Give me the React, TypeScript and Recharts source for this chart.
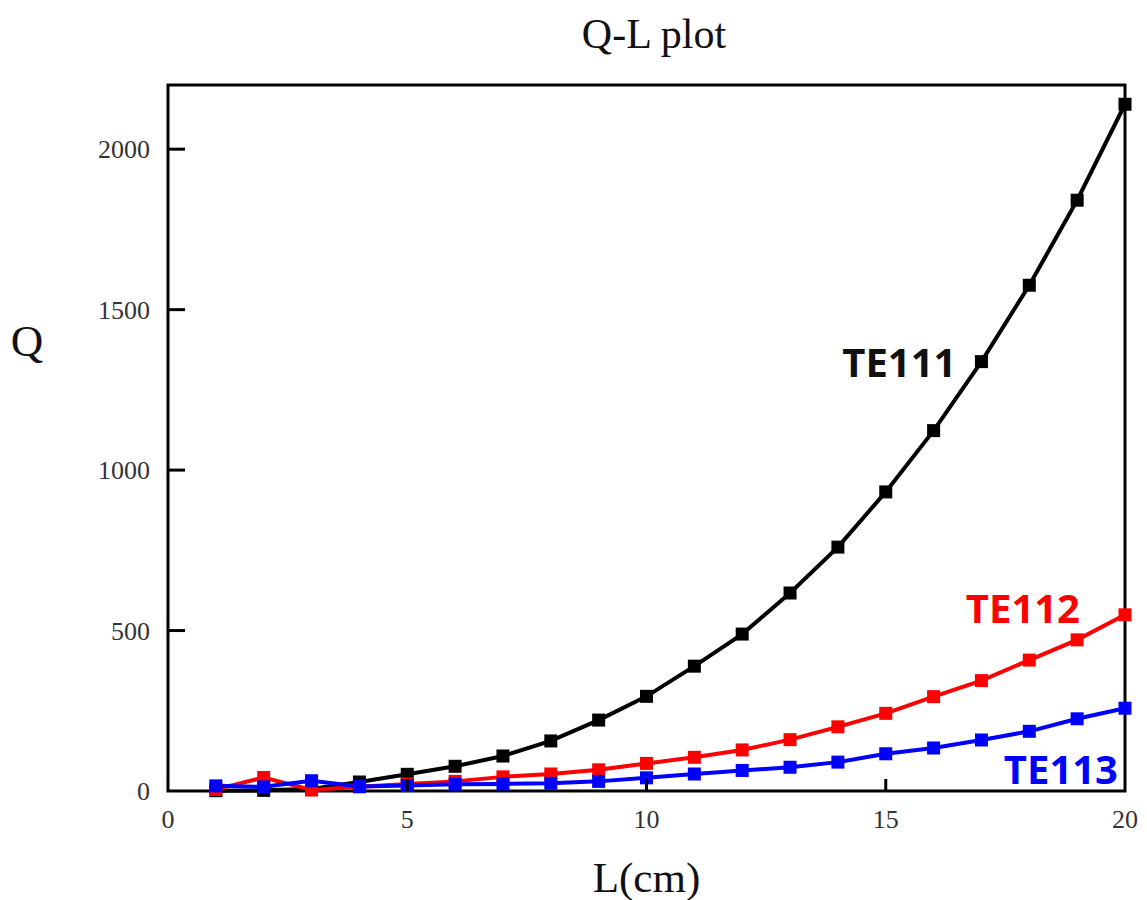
import React from "react";
import { LineChart, Line, XAxis, YAxis, ReferenceArea, Label } from "recharts";

const lengths = [1, 2, 3, 4, 5, 6, 7, 8, 9, 10, 11, 12, 13, 14, 15, 16, 17, 18, 19, 20];
const te111 = [1, 2, 6, 28, 52, 77, 109, 156, 221, 295, 389, 489, 617, 760, 932, 1123, 1338, 1576, 1841, 2140];
const te112 = [5, 42, 3, 13, 22, 30, 44, 53, 66, 86, 105, 128, 160, 200, 242, 294, 344, 408, 471, 549];
const te113 = [16, 13, 32, 14, 17, 21, 22, 24, 30, 41, 53, 64, 74, 90, 116, 134, 159, 186, 225, 258];
const xTicks = [0, 5, 10, 15, 20];
const yTicks = [0, 500, 1000, 1500, 2000];
const seriesNames = ["TE111", "TE112", "TE113"];

const data = lengths.map((L, i) => ({ L, te111: te111[i], te112: te112[i], te113: te113[i] }));

const SERIF = "'Liberation Serif', 'Times New Roman', serif";
const SANS = "'Open Sans', 'Noto Sans', sans-serif";

const XTick = (props: any) => {
  const { x, y, payload } = props;
  const v = payload.value;
  return (
    <g>
      {v !== 0 && v !== 20 && <line x1={x} x2={x} y1={y} y2={y - 12} stroke="#000" strokeWidth={3} />}
      <text x={x} y={y + 37} textAnchor="middle" fontFamily={SERIF} fontSize={26} fill="#333">
        {v}
      </text>
    </g>
  );
};

const YTick = (props: any) => {
  const { x, y, payload } = props;
  const v = payload.value;
  return (
    <g>
      {v !== 0 && <line x1={x} x2={x + 17} y1={y} y2={y} stroke="#000" strokeWidth={3} />}
      <text x={x - 18} y={y} dy="0.35em" textAnchor="end" fontFamily={SERIF} fontSize={26} fill="#333">
        {v}
      </text>
    </g>
  );
};

const squareDot = (color: string) => (props: any) => {
  const { cx, cy, index } = props;
  if (cx == null || cy == null) return <g key={index} />;
  return <rect key={index} x={cx - 6.5} y={cy - 6.5} width={13} height={13} fill={color} />;
};

const seriesLabel = (name: string, color: string, idx: number, dx: number, dy: number) => (props: any) => {
  const { x, y, index } = props;
  if (index !== idx) return null;
  return (
    <text key={`lbl-${name}`} x={x + dx} y={y + dy} textAnchor="end" fontFamily={SANS} fontWeight={700} fontSize={40} fill={color}>
      {name}
    </text>
  );
};

export default function App() {
  return (
    <div style={{ position: "relative", width: 1139, height: 892 }}>
      <LineChart width={1139} height={892} data={data} margin={{ top: 77, right: 22, bottom: 0, left: 0 }}>
        <XAxis
          dataKey="L"
          type="number"
          domain={[0, 20]}
          ticks={xTicks}
          height={109}
          axisLine={false}
          tickLine={false}
          tickSize={0}
          tickMargin={0}
          tick={<XTick />}
          interval={0}
        >
          <Label
            content={(p: any) => {
              const vb = p.viewBox;
              return (
                <text x={vb.x + vb.width / 2} y={vb.y + 101} textAnchor="middle" fontFamily={SERIF} fontSize={43} fill="#111">
                  L(cm)
                </text>
              );
            }}
          />
        </XAxis>
        <YAxis
          type="number"
          domain={[0, 2200]}
          ticks={yTicks}
          width={160}
          axisLine={false}
          tickLine={false}
          tickSize={0}
          tickMargin={0}
          tick={<YTick />}
          interval={0}
        >
          <Label
            content={(p: any) => {
              const vb = p.viewBox;
              return (
                <text x={vb.x + 19} y={vb.y + 271} textAnchor="middle" fontFamily={SERIF} fontSize={45} fill="#111">
                  Q
                </text>
              );
            }}
          />
        </YAxis>
        <ReferenceArea x1={0} x2={20} y1={0} y2={2200} fill="none" stroke="#000" strokeWidth={3} />
        <Line
          dataKey="te111"
          name={seriesNames[0]}
          stroke="#000"
          strokeWidth={4}
          type="linear"
          dot={squareDot("#000")}
          isAnimationActive={false}
          label={seriesLabel(seriesNames[0], "#111", 16, -25, 15)}
        />
        <Line
          dataKey="te112"
          name={seriesNames[1]}
          stroke="#ff0000"
          strokeWidth={4}
          type="linear"
          dot={squareDot("#ff0000")}
          isAnimationActive={false}
          label={seriesLabel(seriesNames[1], "#ff0000", 19, -45, 8)}
        />
        <Line
          dataKey="te113"
          name={seriesNames[2]}
          stroke="#0000ff"
          strokeWidth={4}
          type="linear"
          dot={squareDot("#0000ff")}
          isAnimationActive={false}
          label={seriesLabel(seriesNames[2], "#0000ff", 19, -7, 76)}
        />
      </LineChart>
      <svg width={1139} height={892} style={{ position: "absolute", left: 0, top: 0, pointerEvents: "none" }}>
        <text x={646} y={40} textAnchor="middle" fontFamily={SERIF} fontSize={42} fill="#111">
          Q-L plot
        </text>
      </svg>
    </div>
  );
}
